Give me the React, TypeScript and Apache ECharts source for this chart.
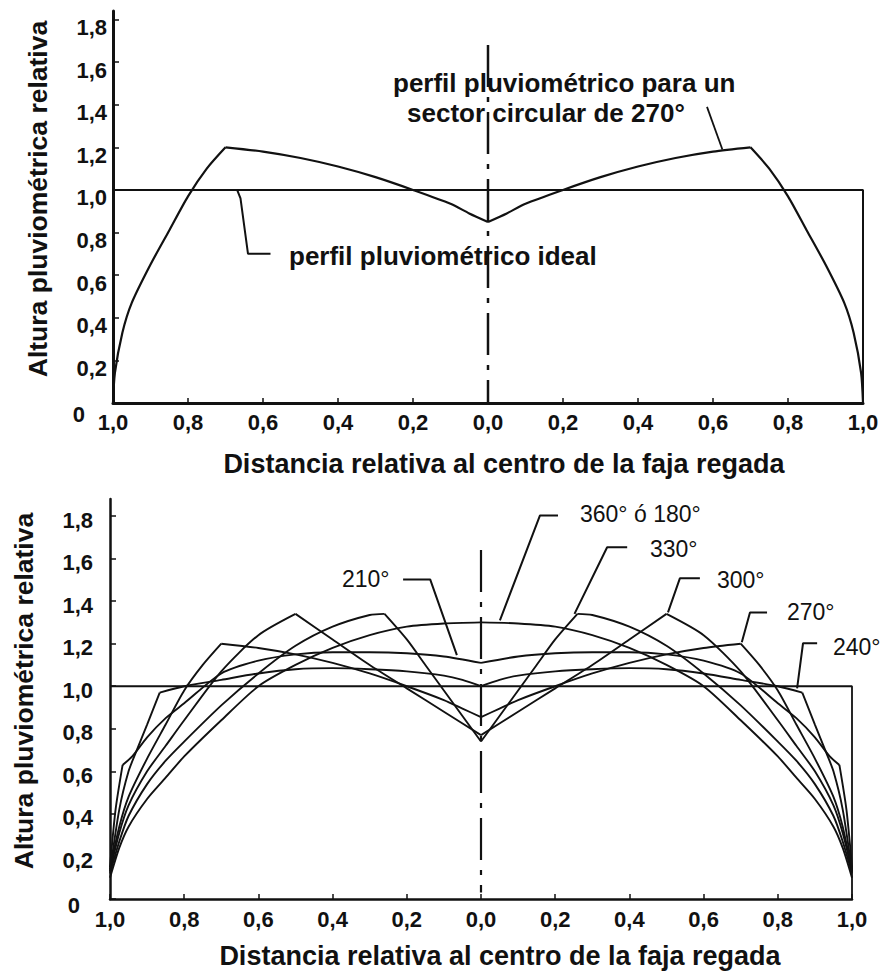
import React, { useEffect, useRef } from 'react';
import * as echarts from 'echarts';

const FONT = '"Liberation Sans", Arial, Helvetica, sans-serif';
const INK = '#111';

// Tick values
const Y_TICKS = [0, 0.2, 0.4, 0.6, 0.8, 1.0, 1.2, 1.4, 1.6, 1.8];

// ---------- Top chart ----------
// Ideal rain profile (rectangle): along y=1 then down at right edge
const idealX = [-1, 1, 1];
const idealY = [1, 1, 0];

// 270° sector profile, right half (mirrored to the left); kink index = peak
const top270X = [0, 0.05, 0.1, 0.2, 0.3, 0.4, 0.5, 0.6, 0.7, 0.75, 0.8, 0.85, 0.9, 0.95, 0.975, 0.995, 1.0];
const top270Y = [0.85, 0.89, 0.935, 1.0, 1.06, 1.11, 1.15, 1.18, 1.2, 1.1, 0.97, 0.81, 0.65, 0.47, 0.33, 0.14, 0];
const top270Kink = 8;

// Center dash-dot axis
const topCenterX = [0, 0];
const topCenterY = [1.68, 0];

// Leader lines (data coords)
const topLeadIdealX = [-0.669, -0.66, -0.64, -0.58];
const topLeadIdealY = [1.0, 0.96, 0.7, 0.7];
const topLead270X = [0.584, 0.625];
const topLead270Y = [1.39, 1.19];

// ---------- Bottom chart ----------
const botIdealX = [-1, 1, 1];
const botIdealY = [1, 1, 0];

const s360X = [0, 0.1, 0.2, 0.3, 0.4, 0.5, 0.6, 0.7, 0.8, 0.85, 0.9, 0.95, 0.975, 1.0];
const s360Y = [1.3, 1.295, 1.28, 1.24, 1.18, 1.1, 1.0, 0.84, 0.67, 0.57, 0.47, 0.34, 0.24, 0.1];
const s360Kink = 0;

const s330X = [0, 0.05, 0.1, 0.15, 0.2, 0.26, 0.3, 0.4, 0.5, 0.6, 0.7, 0.8, 0.85, 0.9, 0.95, 0.975, 1.0];
const s330Y = [0.74, 0.86, 0.98, 1.1, 1.22, 1.34, 1.335, 1.28, 1.19, 1.06, 0.91, 0.74, 0.65, 0.54, 0.39, 0.27, 0.12];
const s330Kink = 5;

const s300X = [0, 0.1, 0.2, 0.3, 0.4, 0.5, 0.6, 0.7, 0.8, 0.85, 0.9, 0.95, 0.975, 1.0];
const s300Y = [0.77, 0.88, 0.99, 1.1, 1.22, 1.34, 1.24, 1.07, 0.84, 0.72, 0.6, 0.44, 0.31, 0.13];
const s300Kink = 5;

const s270X = [0, 0.05, 0.1, 0.2, 0.3, 0.4, 0.5, 0.6, 0.7, 0.75, 0.8, 0.85, 0.9, 0.95, 0.975, 1.0];
const s270Y = [0.855, 0.895, 0.935, 1.0, 1.06, 1.11, 1.15, 1.18, 1.2, 1.1, 0.98, 0.82, 0.66, 0.48, 0.34, 0.14];
const s270Kink = 8;

const s240X = [0, 0.05, 0.1, 0.2, 0.3, 0.4, 0.5, 0.6, 0.7, 0.8, 0.866, 0.9, 0.93, 0.95, 0.975, 1.0];
const s240Y = [1.0, 1.03, 1.05, 1.07, 1.08, 1.085, 1.08, 1.06, 1.03, 1.0, 0.97, 0.82, 0.69, 0.6, 0.42, 0.13];
const s240Kink = 10;

const s210X = [0, 0.1, 0.2, 0.3, 0.4, 0.5, 0.6, 0.7, 0.8, 0.85, 0.9, 0.94, 0.966, 0.985, 1.0];
const s210Y = [1.11, 1.14, 1.155, 1.16, 1.16, 1.15, 1.12, 1.06, 0.92, 0.85, 0.76, 0.67, 0.63, 0.42, 0.15];
const s210Kink = 12;

const botCenterX = [0, 0];
const botCenterY = [1.64, 0.03];

const lead360X = [0.2075, 0.159, 0.051];
const lead360Y = [1.803, 1.803, 1.31];
const lead330X = [0.394, 0.34, 0.252];
const lead330Y = [1.653, 1.653, 1.34];
const lead300X = [0.59, 0.536, 0.504];
const lead300Y = [1.507, 1.507, 1.347];
const lead270X = [0.771, 0.725, 0.703];
const lead270Y = [1.347, 1.347, 1.207];
const lead240X = [0.906, 0.868, 0.852];
const lead240Y = [1.202, 1.202, 0.99];
const lead210X = [-0.21, -0.137, -0.065];
const lead210Y = [1.502, 1.502, 1.146];

const pairs = (xs: number[], ys: number[]) => xs.map((x, i) => [x, ys[i]]);

// Split a symmetric profile (given by its right half) into smooth pieces
// separated at the centre and at the kink, mirrored to the left side.
const pieces = (xs: number[], ys: number[], k: number) => {
  const right = pairs(xs, ys);
  const out: number[][][] = [];
  const rIn = right.slice(0, k + 1);
  const rOut = right.slice(k);
  [rIn, rOut].forEach((p) => {
    if (p.length > 1) {
      out.push(p);
      out.push(p.map(([x, y]) => [-x, y]));
    }
  });
  return out;
};

const fmtX = (v: number) => Math.abs(v).toFixed(1).replace('.', ',');

const line = (name: string, data: number[][], idx: number, width = 2, type: any = 'solid', smooth: any = false) => ({
  name,
  type: 'line',
  xAxisIndex: idx,
  yAxisIndex: idx,
  data,
  showSymbol: false,
  symbol: 'none',
  silent: true,
  smooth,
  lineStyle: { color: INK, width, type },
  z: 3,
});

const curve = (name: string, xs: number[], ys: number[], k: number, idx: number, width: number) =>
  pieces(xs, ys, k).map((p, i) => line(name + '-' + i, p, idx, width, 'solid', 0.25));

const xAxisCfg = (gridIndex: number, margin: number, axisWidth: number) => ({
  type: 'value',
  gridIndex,
  min: -1,
  max: 1,
  interval: 0.2,
  axisLine: { show: true, onZero: false, lineStyle: { color: INK, width: axisWidth } },
  axisTick: { show: true, inside: true, length: 5, lineStyle: { color: INK, width: 1.5 } },
  axisLabel: {
    color: INK,
    fontFamily: FONT,
    fontWeight: 'bold',
    fontSize: 22,
    margin,
    formatter: fmtX,
  },
  splitLine: { show: false },
});

const yAxisCfg = (gridIndex: number, max: number, margin: number, padTop: number, zeroPad: number[], axisWidth: number) => ({
  type: 'value',
  gridIndex,
  min: 0,
  max,
  interval: 0.2,
  axisLine: { show: true, onZero: false, lineStyle: { color: INK, width: axisWidth } },
  axisTick: { show: true, inside: true, length: 6, customValues: Y_TICKS, lineStyle: { color: INK, width: 1.5 } },
  axisLabel: {
    customValues: Y_TICKS,
    margin,
    align: 'right',
    formatter: (v: number) => (Math.abs(v) < 1e-9 ? '{z|0}' : '{a|' + v.toFixed(1).replace('.', ',') + '}'),
    rich: {
      a: { color: INK, fontFamily: FONT, fontWeight: 'bold', fontSize: 22, padding: [padTop, 0, 0, 0] },
      z: { color: INK, fontFamily: FONT, fontWeight: 'bold', fontSize: 22, padding: zeroPad },
    },
  },
  splitLine: { show: false },
});

const txt = (text: string, x: number, y: number, font: string, align = 'left', rotation = 0) => ({
  type: 'text',
  x,
  y,
  rotation,
  silent: true,
  style: { text, font, fill: INK, align, verticalAlign: 'middle' },
  z: 10,
});

export default function App() {
  const ref = useRef<HTMLDivElement>(null);
  useEffect(() => {
    if (!ref.current) return;
    const chart = echarts.init(ref.current, undefined, { renderer: 'svg' });
    const titleFont = `bold 27px ${FONT}`;
    const yTitleFont = `bold 26.5px ${FONT}`;
    const annFont = `bold 26px ${FONT}`;
    const degFont = `23px ${FONT}`;
    chart.setOption({
      animation: false,
      backgroundColor: '#ffffff',
      textStyle: { fontFamily: FONT },
      grid: [
        { left: 113, top: 11, width: 750, height: 392 },
        { left: 110, top: 499, width: 742, height: 400 },
      ],
      xAxis: [xAxisCfg(0, 8, 3), xAxisCfg(1, 9, 2.5)],
      yAxis: [
        yAxisCfg(0, 1.84, 6, 16, [22, 22, 0, 0], 3),
        yAxisCfg(1, 1.88, 17, 8, [12, 13, 0, 0], 2.5),
      ],
      series: [
        // top chart
        line('ideal-top', pairs(idealX, idealY), 0, 2),
        ...curve('270-top', top270X, top270Y, top270Kink, 0, 2.2),
        line('center-top', pairs(topCenterX, topCenterY), 0, 2.5, [42, 10, 5, 10]),
        line('lead-ideal', pairs(topLeadIdealX, topLeadIdealY), 0, 2),
        line('lead-270', pairs(topLead270X, topLead270Y), 0, 1.8),
        // bottom chart
        line('ideal-bot', pairs(botIdealX, botIdealY), 1, 1.8),
        ...curve('360', s360X, s360Y, s360Kink, 1, 1.9),
        ...curve('330', s330X, s330Y, s330Kink, 1, 1.9),
        ...curve('300', s300X, s300Y, s300Kink, 1, 1.9),
        ...curve('270', s270X, s270Y, s270Kink, 1, 1.9),
        ...curve('240', s240X, s240Y, s240Kink, 1, 1.9),
        ...curve('210', s210X, s210Y, s210Kink, 1, 1.9),
        line('center-bot', pairs(botCenterX, botCenterY), 1, 2.2, [42, 10, 5, 10]),
        line('lead-360', pairs(lead360X, lead360Y), 1, 2),
        line('lead-330', pairs(lead330X, lead330Y), 1, 2),
        line('lead-300', pairs(lead300X, lead300Y), 1, 2),
        line('lead-270', pairs(lead270X, lead270Y), 1, 2),
        line('lead-240', pairs(lead240X, lead240Y), 1, 2),
        line('lead-210', pairs(lead210X, lead210Y), 1, 2),
      ],
      graphic: [
        txt('Altura pluviométrica relativa', 38, 199, yTitleFont, 'center', Math.PI / 2),
        txt('Distancia relativa al centro de la faja regada', 504, 464, titleFont, 'center'),
        txt('perfil pluviométrico para un', 393, 83, annFont),
        txt('sector circular de 270°', 407, 113, annFont),
        txt('perfil pluviométrico ideal', 289, 256, annFont),
        txt('Altura pluviométrica relativa', 24, 691, yTitleFont, 'center', Math.PI / 2),
        txt('Distancia relativa al centro de la faja regada', 500, 956, titleFont, 'center'),
        txt('360° ó 180°', 580, 514, degFont),
        txt('330°', 650, 549, degFont),
        txt('300°', 717, 580, degFont),
        txt('270°', 787, 612, degFont),
        txt('240°', 833, 647, degFont),
        txt('210°', 342, 579, degFont),
      ],
    });
    return () => chart.dispose();
  }, []);
  return (
    <div
      ref={ref}
      style={{ position: 'fixed', left: 0, top: 0, width: 883, height: 973, background: '#fff' }}
    />
  );
}
